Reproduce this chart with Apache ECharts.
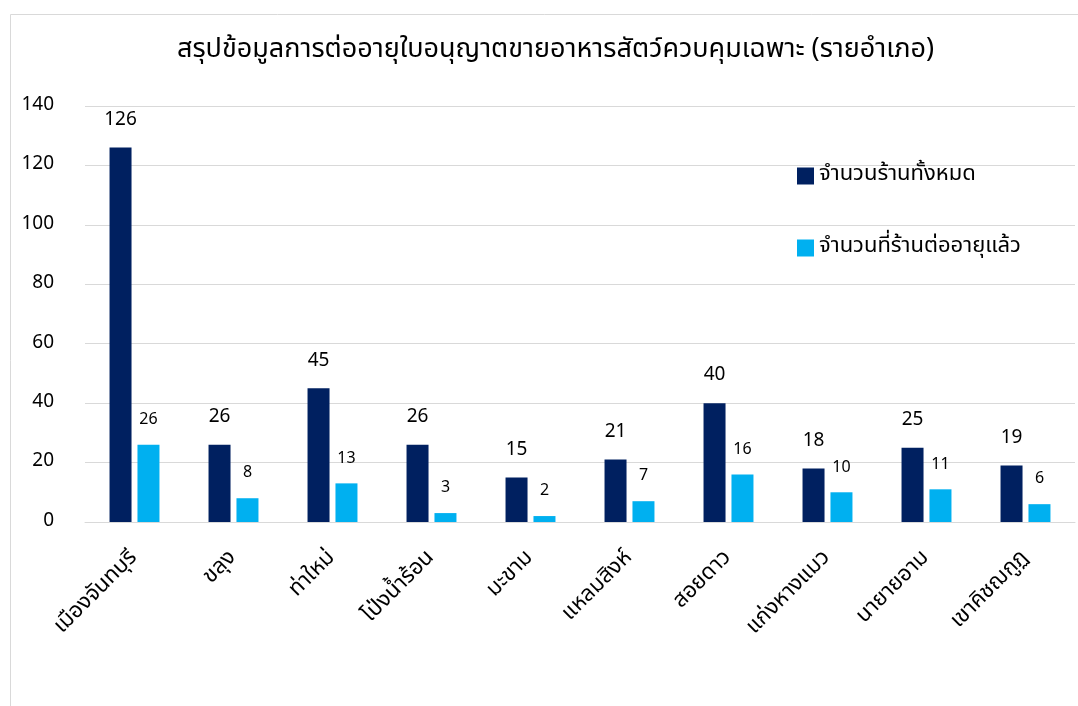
<!DOCTYPE html>
<html>
<head>
<meta charset="utf-8">
<script src="https://cdn.jsdelivr.net/npm/echarts@6/dist/echarts.min.js"></script>
<style>
html,body{margin:0;padding:0;background:#fff;}
#chart{width:1078px;height:706px;}
</style>
</head>
<body>
<div id="chart"></div>
<script>
const titleText = 'สรุปข้อมูลการต่ออายุใบอนุญาตขายอาหารสัตว์ควบคุมเฉพาะ (รายอำเภอ)';
const categories = ['เมืองจันทบุรี','ขลุง','ท่าใหม่','โป่งน้ำร้อน','มะขาม','แหลมสิงห์','สอยดาว','แก่งหางแมว','นายายอาม','เขาคิชฌกูฏ'];
const seriesNames = ['จำนวนร้านทั้งหมด','จำนวนที่ร้านต่ออายุแล้ว'];
const totalShops = [126,26,45,26,15,21,40,18,25,19];
const renewedShops = [26,8,13,3,2,7,16,10,11,6];
const yTicks = {min:0, max:140, interval:20};

const FONT = '"Noto Sans Thai","Leelawadee UI",Tahoma,"Noto Sans",sans-serif';
const chart = echarts.init(document.getElementById('chart'));
chart.setOption({
  animation:false,
  textStyle:{fontFamily:FONT},
  graphic:[{type:'rect',shape:{x:10.5,y:14.5,width:1100,height:800},style:{fill:'none',stroke:'#d9d9d9',lineWidth:1},silent:true,z:-1}],
  title:{text:titleText,left:172,top:33,textStyle:{fontSize:27,fontWeight:'normal',color:'#000',fontFamily:FONT}},
  legend:{orient:'vertical',left:792,top:160,itemWidth:17,itemHeight:17,itemGap:50,icon:'rect',
    textStyle:{fontSize:22,color:'#000',fontFamily:FONT},data:seriesNames},
  grid:{left:85,right:3,top:106,bottom:184,containLabel:false},
  xAxis:{type:'category',data:categories,
    axisLine:{lineStyle:{color:'#d9d9d9'}},axisTick:{show:false},
    axisLabel:{rotate:45,interval:0,margin:33,fontSize:22,color:'#000',fontFamily:FONT}},
  yAxis:{type:'value',min:yTicks.min,max:yTicks.max,interval:yTicks.interval,
    axisLine:{show:false},axisTick:{show:false},
    splitLine:{lineStyle:{color:'#d9d9d9'}},
    axisLabel:{margin:31,fontSize:19,color:'#000',fontFamily:FONT}},
  series:[
    {name:seriesNames[0],type:'bar',data:totalShops,barWidth:22,barGap:'27%',
      itemStyle:{color:'#002060'},
      label:{show:true,position:'top',distance:17,fontSize:19,color:'#000',fontFamily:FONT}},
    {name:seriesNames[1],type:'bar',data:renewedShops,barWidth:22,
      itemStyle:{color:'#00B0F0'},
      label:{show:true,position:'top',distance:16,fontSize:16,color:'#000',fontFamily:FONT}}
  ]
});
</script>
</body>
</html>
